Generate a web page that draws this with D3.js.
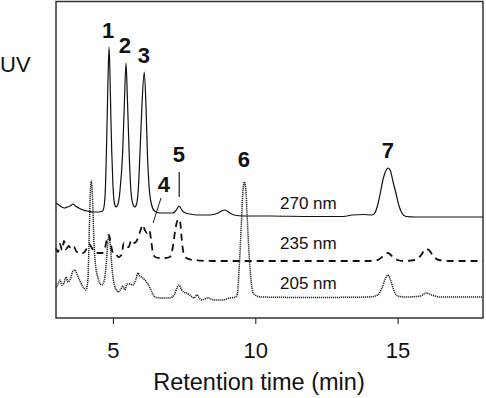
<!DOCTYPE html>
<html>
<head>
<meta charset="utf-8">
<script src="https://cdn.jsdelivr.net/npm/d3@7"></script>
<style>
  body { margin: 0; background: #fff; }
  svg { display: block; font-family: "Liberation Sans", Arial, Helvetica, sans-serif; }
</style>
</head>
<body>
<div id="chart"></div>
<script>
// retention time (min) and detector signal (arbitrary units)
const time270 = [3.00,3.10,3.20,3.30,3.40,3.50,3.60,3.68,3.80,3.95,4.10,4.30,4.50,4.64,4.70,4.74,4.77,4.80,4.83,4.865,4.90,4.93,4.96,5.00,5.05,5.11,5.18,5.25,5.34,5.40,5.46,5.51,5.57,5.63,5.70,5.77,5.84,5.90,5.95,6.02,6.10,6.16,6.21,6.28,6.36,6.46,6.65,6.90,7.10,7.20,7.27,7.32,7.38,7.48,7.70,8.00,8.40,8.70,8.85,8.94,9.05,9.25,9.60,10.5,12.0,13.1,13.4,13.8,14.10,14.20,14.30,14.40,14.50,14.60,14.67,14.75,14.85,14.94,15.05,15.15,15.30,15.6,18.0];
const uv270 = [115,113,111,110,111,112,114,112,110,108,107,106,106,107,114,133,165,203,243,271,238,198,165,133,115,111,114,128,165,213,255,218,165,128,114,111,115,133,165,213,246,213,165,128,113,107,105,105,105,107,110,112,110,106,104,103,103,105,107.5,108,106,103,102,102,101.5,101.5,103,103.5,103,105,113,126,140,148,150,147,135,125,112,105,101.5,101,101];

const time235 = [3.00,3.07,3.14,3.21,3.28,3.35,3.45,3.53,3.63,3.73,3.84,3.95,4.05,4.16,4.26,4.35,4.48,4.62,4.72,4.80,4.86,4.93,5.00,5.10,5.20,5.30,5.38,5.45,5.55,5.65,5.75,5.85,5.95,6.05,6.12,6.20,6.28,6.34,6.40,6.48,6.65,6.85,7.00,7.10,7.20,7.30,7.36,7.42,7.48,7.58,7.80,8.50,14.0,14.3,14.5,14.66,14.8,15.0,15.2,15.6,15.8,16.0,16.1,16.25,16.45,16.8,18.0];
const uv235 = [70,66,74,68,77,69,72,69,71,66,67,65,68,74,70,66,65,65,70,80,83,73,65,64,61,63,75,72,71,78,75,78,86,93,88,85,88,78,66,61,60,60,61,70,90,99,96,78,65,60,58,57,57,58,62,65,62,58,57,58,62,69,68,62,58,57,57];

const time205 = [3.00,3.07,3.14,3.21,3.28,3.35,3.42,3.50,3.60,3.67,3.75,3.84,3.95,4.05,4.12,4.17,4.21,4.24,4.28,4.33,4.40,4.48,4.55,4.62,4.70,4.77,4.83,4.87,4.92,4.98,5.05,5.12,5.18,5.28,5.35,5.42,5.50,5.60,5.70,5.80,5.88,5.95,6.05,6.15,6.25,6.35,6.48,6.70,7.00,7.15,7.25,7.32,7.40,7.48,7.58,7.70,7.85,7.95,8.10,8.35,8.55,8.85,9.10,9.30,9.37,9.44,9.51,9.57,9.62,9.67,9.73,9.80,9.87,9.95,10.2,12.0,14.0,14.3,14.45,14.58,14.66,14.75,14.88,15.0,15.3,15.8,16.0,16.2,16.5,18.0];
const uv205 = [30,34,38,33,35,41,36,39,47,48,43,37,31,28,38,88,128,137,123,78,50,40,34,33,38,56,78,82,68,46,33,28,26,29,32,28,34,34,33,38,45,42,40,37,33,27,21,20,20,23,30,33,29,26,25,23,20,23,18,20,18,18,20,21,24,53,93,128,136,128,93,56,33,24,21,20.5,21,23,30,40,43,38,27,22,21,22,25,23,21,21];

// peak numbers and where they sit (time, signal)
const peakNames = ["1","2","3","4","5","6","7"];
const peakTime = [4.83,5.42,6.09,6.79,7.32,9.60,14.66];
const peakLevel = [288,273,263,134,164,159,168];

const traceNames = ["270 nm","235 nm","205 nm"];
const traceLabelLevel = [115,75,35];
const xTicks = [5,10,15];

const width = 486, height = 398;
const margin = {top: 1.5, right: 3, bottom: 80, left: 56};

const svg = d3.select("#chart").append("svg")
    .attr("width", width)
    .attr("height", height);

const x = d3.scaleLinear()
    .domain([3, 18])
    .range([margin.left, width - margin.right]);

const y = d3.scaleLinear()
    .domain([0, 316.5])
    .range([height - margin.bottom, margin.top]);

const line = d3.line()
    .x(d => x(d[0]))
    .y(d => y(d[1]))
    .curve(d3.curveMonotoneX);

const zip = (a, b) => a.map((t, i) => [t, b[i]]);

// traces
svg.append("path")
    .datum(zip(time205, uv205))
    .attr("d", line)
    .attr("fill", "none")
    .attr("stroke", "#222")
    .attr("stroke-width", 1.5)
    .attr("stroke-dasharray", "1.2,0.8");

svg.append("path")
    .datum(zip(time235, uv235))
    .attr("d", line)
    .attr("fill", "none")
    .attr("stroke", "#111")
    .attr("stroke-width", 1.8)
    .attr("stroke-dasharray", "7,5");

svg.append("path")
    .datum(zip(time270, uv270))
    .attr("d", line)
    .attr("fill", "none")
    .attr("stroke", "#111")
    .attr("stroke-width", 1.2);

// frame
svg.append("rect")
    .attr("x", x(3))
    .attr("y", y(316.5))
    .attr("width", x(18) - x(3))
    .attr("height", y(0) - y(316.5))
    .attr("fill", "none")
    .attr("stroke", "#333")
    .attr("stroke-width", 1.5);

// x axis
const xAxis = svg.append("g")
    .attr("transform", `translate(0, ${y(0)})`)
    .call(d3.axisBottom(x).tickValues(xTicks).tickSize(6).tickPadding(18).tickSizeOuter(0));
xAxis.select(".domain").remove();
xAxis.selectAll("line").attr("stroke", "#333").attr("stroke-width", 1.2);
xAxis.selectAll("text")
    .attr("font-family", "Liberation Sans, Arial, sans-serif")
    .attr("font-size", 22)
    .attr("fill", "#111");

svg.append("text")
    .attr("x", x(10.13))
    .attr("y", 390)
    .attr("text-anchor", "middle")
    .attr("font-size", 23.5)
    .attr("fill", "#111")
    .text("Retention time (min)");

svg.append("text")
    .attr("x", 0)
    .attr("y", 72)
    .attr("font-size", 22)
    .attr("fill", "#111")
    .text("UV");

// peak numbers
svg.selectAll(".peak")
    .data(peakNames)
    .enter()
    .append("text")
    .attr("class", "peak")
    .attr("x", (d, i) => x(peakTime[i]))
    .attr("y", (d, i) => y(peakLevel[i]))
    .attr("dy", "0.36em")
    .attr("text-anchor", "middle")
    .attr("font-size", 22)
    .attr("font-weight", "bold")
    .attr("fill", "#111")
    .text(d => d);

// leader lines for peaks 4 and 5
svg.append("line")
    .attr("x1", x(6.69)).attr("y1", y(120))
    .attr("x2", x(6.41)).attr("y2", y(95))
    .attr("stroke", "#222").attr("stroke-width", 1);
svg.append("line")
    .attr("x1", x(7.33)).attr("y1", y(146))
    .attr("x2", x(7.33)).attr("y2", y(121))
    .attr("stroke", "#444").attr("stroke-width", 1.5);

// wavelength labels
svg.selectAll(".wl")
    .data(traceNames)
    .enter()
    .append("text")
    .attr("class", "wl")
    .attr("x", x(10.87))
    .attr("y", (d, i) => y(traceLabelLevel[i]))
    .attr("dy", "0.36em")
    .attr("font-size", 17)
    .attr("fill", "#111")
    .text(d => d);
</script>
</body>
</html>
